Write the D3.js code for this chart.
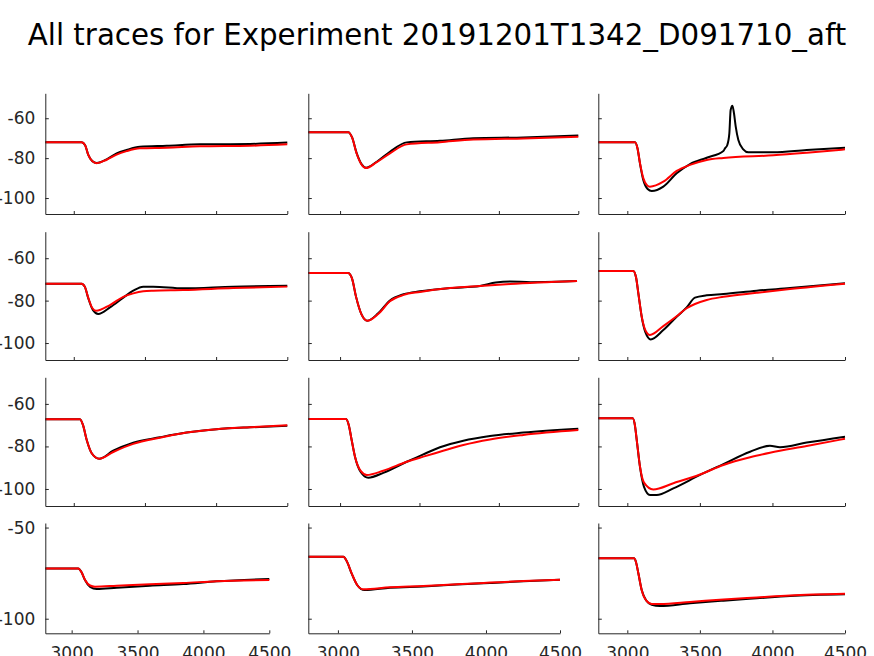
<!DOCTYPE html>
<html>
<head>
<meta charset="utf-8">
<script src="https://cdn.jsdelivr.net/npm/d3@7"></script>
<style>
  html, body { margin: 0; padding: 0; background: #fff; }
  svg { display: block; }
  text { font-family: "DejaVu Sans", sans-serif; }
</style>
</head>
<body>
<svg id="chart" width="874" height="656"></svg>
<script>
// ---------- data ----------
const titleText = "All traces for Experiment 20191201T1342_D091710_aft";
const xTicks = [3000, 3500, 4000, 4500];
const yTicksUpper = [-60, -80, -100];
const yTicksBottom = [-50, -100];
const xDomain = [2800, 4500];
const yDomain = [-108, -47.5];

// recorded traces (black) and fits (red), [time, mV]
const r1c1Rec = [[2800,-72],[3055,-72],[3080,-73.5],[3102,-78.4],[3130,-81.5],[3161,-82.4],[3231,-80.6],[3301,-77.6],[3371,-75.9],[3465,-74.3],[3653,-73.8],[3886,-73.1],[4237,-72.9],[4500,-72.2]];
const r1c1Fit = [[2800,-72],[3055,-72],[3080,-73.5],[3102,-78.4],[3130,-81.5],[3161,-82.5],[3231,-80.8],[3301,-78.2],[3371,-76.5],[3465,-75.1],[3653,-74.8],[3886,-74.1],[4237,-73.8],[4500,-73.1]];
const r1c2Rec = [[2800,-67],[3052,-67],[3075,-69.5],[3105,-77.6],[3135,-83],[3163,-84.8],[3231,-81.8],[3314,-76.8],[3420,-72.1],[3629,-71.3],[3839,-70.0],[4154,-69.6],[4500,-68.7]];
const r1c2Fit = [[2800,-67],[3052,-67],[3075,-69.5],[3105,-77.8],[3135,-83.2],[3163,-85],[3231,-82],[3314,-77.6],[3420,-73.1],[3629,-72.0],[3839,-70.7],[4154,-70.1],[4500,-69.3]];
const r1c3Rec = [[2800,-72],[3053,-72],[3070,-75],[3087,-82.6],[3110,-91],[3140,-95.5],[3168,-96.5],[3248,-94.3],[3340,-87.6],[3432,-83],[3547,-79.8],[3662,-76.4],[3673,-75.1],[3689,-73.4],[3703,-67.6],[3712,-55.9],[3724,-53.7],[3735,-57.5],[3747,-64.2],[3765,-70.9],[3799,-75.6],[3834,-77.1],[4006,-77.1],[4236,-75.9],[4500,-74.8]];
const r1c3Fit = [[2800,-72],[3053,-72],[3070,-75],[3087,-82.4],[3110,-90],[3135,-93.5],[3156,-94.3],[3248,-91.8],[3340,-86.4],[3432,-83.4],[3547,-80.9],[3662,-79.9],[4006,-78.6],[4236,-77.3],[4500,-75.6]];
const r2c1Rec = [[2800,-72],[3055,-72],[3078,-73.5],[3102,-78.9],[3135,-84.5],[3172,-86.3],[3254,-83.2],[3348,-78.6],[3418,-75.3],[3488,-73.4],[3558,-73.4],[3769,-74.2],[4120,-73.4],[4500,-73]];
const r2c1Fit = [[2800,-72],[3055,-72],[3078,-73.5],[3102,-78.7],[3130,-83.5],[3156,-84.8],[3254,-82.1],[3348,-78.2],[3418,-76.6],[3488,-75.6],[3558,-75.3],[3769,-75.0],[4120,-74.1],[4500,-73.4]];
const r2c2Rec = [[2800,-67],[3050,-67],[3075,-69.5],[3100,-78],[3135,-86.5],[3172,-89.5],[3240,-86],[3314,-80],[3400,-77],[3503,-75.6],[3692,-74.1],[3881,-73.1],[3980,-71.5],[4070,-71],[4200,-71.3],[4492,-70.8]];
const r2c2Fit = [[2800,-67],[3050,-67],[3075,-69.5],[3100,-78],[3135,-86.5],[3172,-89.5],[3240,-86.3],[3314,-80.3],[3400,-77.3],[3503,-75.9],[3692,-74.1],[3881,-73.1],[4070,-72.2],[4492,-70.8]];
const r2c3Rec = [[2800,-66],[3041,-66],[3060,-69],[3076,-76.6],[3099,-87.6],[3125,-95],[3161,-98.3],[3248,-93.9],[3340,-87.6],[3409,-83.2],[3466,-78.6],[3547,-77.5],[3662,-76.9],[3892,-75.3],[4121,-74.1],[4500,-71.8]];
const r2c3Fit = [[2800,-66],[3041,-66],[3060,-69],[3076,-76.6],[3099,-87.4],[3125,-94],[3156,-96.2],[3248,-92.0],[3340,-87.4],[3409,-83.6],[3466,-81.6],[3547,-79.7],[3662,-78.2],[3892,-76.3],[4121,-74.5],[4500,-72.0]];
const r3c1Rec = [[2800,-67.2],[3044,-67.2],[3065,-70],[3091,-77],[3126,-83.2],[3179,-85.8],[3277,-82.0],[3418,-78.2],[3605,-75.7],[3793,-73.5],[4004,-71.9],[4238,-71.0],[4500,-70.3]];
const r3c1Fit = [[2800,-67.2],[3044,-67.2],[3065,-70],[3091,-77],[3126,-83.2],[3179,-85.8],[3277,-82.6],[3418,-78.8],[3605,-75.9],[3793,-73.5],[4004,-71.9],[4238,-71.0],[4500,-70.0]];
const r3c2Rec = [[2800,-67.1],[3037,-67.1],[3055,-70],[3073,-77],[3094,-84.8],[3130,-92],[3178,-94.7],[3272,-92.4],[3420,-87.2],[3524,-83.7],[3629,-80.4],[3776,-77.3],[3944,-75.1],[4154,-73.5],[4500,-71.7]];
const r3c2Fit = [[2800,-67.1],[3037,-67.1],[3055,-70],[3073,-77],[3094,-84.8],[3130,-91.5],[3168,-93.4],[3272,-91.4],[3420,-87.2],[3524,-84.8],[3629,-82.5],[3776,-79.3],[3944,-76.7],[4154,-74.6],[4500,-72.3]];
const r3c3Rec = [[2800,-66.8],[3037,-66.8],[3052,-70],[3065,-77],[3087,-89.5],[3115,-99],[3156,-102.8],[3202,-102.8],[3317,-99.7],[3501,-93.4],[3662,-88.3],[3846,-82.5],[3983,-79.7],[4052,-80.4],[4236,-78.2],[4500,-75.4]];
const r3c3Fit = [[2800,-66.8],[3037,-66.8],[3052,-70],[3065,-77],[3087,-89.3],[3115,-97],[3179,-100.2],[3317,-97.3],[3501,-93.2],[3662,-88.7],[3846,-85.1],[3983,-83.0],[4236,-79.8],[4500,-76.4]];
const r4c1Rec = [[2800,-72.4],[3050,-72.4],[3075,-74.5],[3101,-78.8],[3140,-82.5],[3190,-83.7],[3342,-83.0],[3594,-81.9],[3847,-81.0],[4100,-79.5],[4500,-78.2]];
const r4c1Fit = [[2800,-72.4],[3050,-72.4],[3075,-74.5],[3101,-78.6],[3140,-81.8],[3177,-82.4],[3342,-81.9],[3594,-81.1],[3847,-80.4],[4100,-79.4],[4500,-78.8]];
const r4c2Rec = [[2800,-66],[3037,-66],[3060,-68.5],[3093,-75.3],[3130,-81.5],[3180,-84.3],[3352,-83.0],[3577,-82.3],[3803,-81.3],[4028,-80.4],[4253,-79.5],[4500,-78.6]];
const r4c2Fit = [[2800,-66],[3037,-66],[3060,-68.5],[3093,-75.1],[3130,-81.5],[3172,-83.9],[3352,-82.8],[3577,-82.1],[3803,-81.1],[4028,-80.2],[4253,-79.3],[4500,-78.6]];
const r4c3Rec = [[2800,-66.9],[3046,-66.9],[3060,-69],[3076,-75.1],[3099,-84.3],[3130,-90],[3168,-92.3],[3225,-93.0],[3432,-91.5],[3662,-90.1],[3892,-88.8],[4121,-87.5],[4500,-86.6]];
const r4c3Fit = [[2800,-66.9],[3046,-66.9],[3060,-69],[3076,-75.1],[3099,-84.3],[3130,-90],[3168,-91.9],[3225,-91.9],[3432,-90.8],[3662,-89.4],[3892,-88.3],[4121,-87.2],[4500,-86.3]];

const recorded = [r1c1Rec, r1c2Rec, r1c3Rec, r2c1Rec, r2c2Rec, r2c3Rec, r3c1Rec, r3c2Rec, r3c3Rec, r4c1Rec, r4c2Rec, r4c3Rec];
const fitted   = [r1c1Fit, r1c2Fit, r1c3Fit, r2c1Fit, r2c2Fit, r2c3Fit, r3c1Fit, r3c2Fit, r3c3Fit, r4c1Fit, r4c2Fit, r4c3Fit];

// ---------- layout ----------
const colLeft = [45.3, 308.3, 598.3];
const colRightUpper = [287.3, 578.3, 845];
const colRightBottom = [269.3, 560, 845];
const rowBox = [[93.3, 214], [231.7, 360], [377.3, 506], [523, 633.3]];
const axisColor = "#262626";

const svg = d3.select("#chart");

svg.append("text")
  .attr("x", 437).attr("y", 45)
  .attr("text-anchor", "middle")
  .attr("font-size", "29.3px")
  .attr("fill", "#000")
  .text(titleText);

for (let r = 0; r < 4; r++) {
  for (let c = 0; c < 3; c++) {
    const idx = r * 3 + c;
    const left = colLeft[c];
    const right = r === 3 ? colRightBottom[c] : colRightUpper[c];
    const [top, bottom] = rowBox[r];
    const x = d3.scaleLinear().domain(xDomain).range([left, right]);
    const y = d3.scaleLinear().domain(yDomain).range([bottom, top]);

    const g = svg.append("g");

    const line = d3.line().x(d => x(d[0])).y(d => y(d[1])).curve(d3.curveMonotoneX);

    g.append("path").datum(recorded[idx])
      .attr("d", line).attr("fill", "none")
      .attr("stroke", "#000").attr("stroke-width", 2)
      .attr("stroke-linejoin", "round");
    g.append("path").datum(fitted[idx])
      .attr("d", line).attr("fill", "none")
      .attr("stroke", "#ff0000").attr("stroke-width", 2)
      .attr("stroke-linejoin", "round");

    const xAxis = d3.axisBottom(x).tickValues(xTicks)
      .tickSizeInner(-3).tickSizeOuter(0).tickPadding(13.5)
      .tickFormat(r === 3 ? d3.format("d") : () => "");
    const yAxis = d3.axisLeft(y).tickValues(r === 3 ? yTicksBottom : yTicksUpper)
      .tickSizeInner(-3.5).tickSizeOuter(0).tickPadding(10)
      .tickFormat(c === 0 ? (d => String(d)) : () => "");

    const gx = g.append("g").attr("transform", `translate(0,${bottom})`).call(xAxis);
    const gy = g.append("g").attr("transform", `translate(${left},0)`).call(yAxis);
    [gx, gy].forEach(a => {
      a.select(".domain").attr("stroke", axisColor).attr("stroke-width", 1);
      a.selectAll(".tick line").attr("stroke", axisColor).attr("stroke-width", 1);
      a.selectAll(".tick text").attr("fill", axisColor)
        .attr("font-size", "17px").attr("font-family", "DejaVu Sans, sans-serif");
    });
  }
}
</script>
</body>
</html>
